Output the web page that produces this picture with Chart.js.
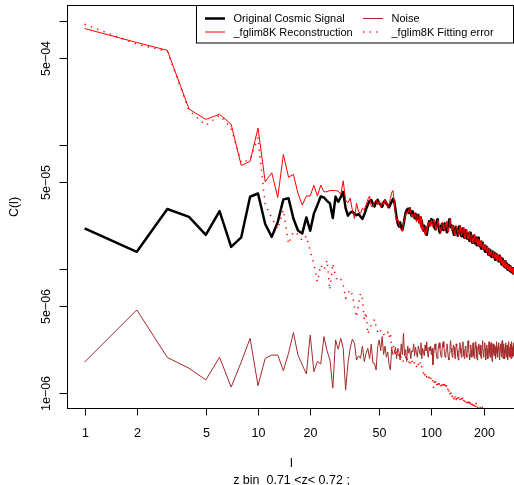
<!DOCTYPE html>
<html>
<head>
<meta charset="utf-8">
<script src="https://cdn.jsdelivr.net/npm/chart.js@4.4.1/dist/chart.umd.min.js"></script>
<style>
  html, body { margin: 0; padding: 0; background: #fff; overflow: hidden; }
  #plot { display: block; }
</style>
</head>
<body>
<canvas id="plot" width="516" height="485"></canvas>
<script>
// C(l) values are stored in units of 1e-6, one entry per multipole l = 1, 2, 3, ...
const UNIT = 1e-6;

const signal = [
  21.3, 13.8, 30.5, 26.4, 18.9, 29.4, 15.1, 18.0, 38.3, 40.7,
  23.1, 18.2, 24.0, 36.5, 37.2, 25.6, 20.5, 19.4, 26.1, 20.4,
  28.0, 32.8, 38.5, 37.8, 35.5, 33.8, 25.8, 38.4, 34.9, 38.0,
  42.0, 31.0, 27.0, 28.5, 29.0, 28.0, 27.2, 27.8, 26.5, 25.4,
  27.5, 30.5, 33.0, 35.5, 36.0, 33.5, 32.0, 34.8, 36.2, 34.0,
  33.0, 31.8, 34.5, 35.8, 33.6, 32.9, 31.5, 33.2, 35.0, 36.8,
  35.5, 30.5, 25.8, 23.2, 22.0, 23.8, 21.5, 20.6, 22.8, 25.5,
  28.5, 29.8, 30.6, 28.4, 31.0, 28.2, 26.8, 29.2, 27.0, 25.8,
  27.9, 25.2, 26.5, 27.4, 24.0, 25.9, 22.8, 24.6, 21.2, 20.5,
  22.4, 19.8, 21.6, 18.9, 20.7, 22.9, 24.3, 22.6, 23.9, 25.3,
  23.7, 24.6, 23.3, 21.7, 21.0, 22.1, 23.9, 25.1, 23.5, 21.9,
  20.3, 19.6, 21.1, 22.5, 23.1, 22.0, 20.7, 21.6, 23.3, 22.7,
  22.1, 20.7, 19.8, 21.2, 22.9, 24.3, 25.2, 23.4, 21.8, 22.5,
  21.4, 22.2, 20.9, 19.6, 18.9, 19.8, 21.1, 22.0, 21.3, 20.1,
  19.5, 18.6, 19.9, 21.2, 22.1, 21.0, 20.3, 19.0, 18.4, 19.6,
  20.5, 21.3, 19.9, 18.6, 17.9, 18.8, 19.7, 20.6, 19.1, 18.3,
  17.6, 18.5, 19.5, 18.9, 17.4, 16.9, 17.7, 18.8, 19.6, 18.0,
  17.1, 16.3, 16.9, 18.0, 18.6, 17.8, 16.6, 16.2, 17.4, 18.1,
  17.5, 16.4, 15.6, 16.1, 17.2, 17.9, 16.8, 15.9, 15.4, 16.3,
  16.6, 15.7, 14.9, 14.6, 15.3, 16.2, 16.4, 15.5, 14.8, 15.2,
  15.6, 14.9, 14.0, 13.8, 14.5, 15.3, 15.1, 14.3, 13.9, 14.6,
  14.4, 13.5, 13.1, 13.6, 14.3, 14.0, 13.2, 12.9, 13.7, 14.1,
  13.8, 13.0, 12.5, 12.8, 13.6, 13.9, 13.2, 12.6, 12.9, 13.5,
  13.1, 12.3, 11.9, 12.4, 13.0, 13.2, 12.5, 12.0, 12.3, 12.9,
  12.7, 12.0, 11.6, 11.9, 12.6, 12.8, 12.2, 11.5, 11.8, 12.4,
  12.0, 11.3, 10.9, 11.2, 11.8, 12.1, 11.6, 10.9, 10.7, 11.3,
  11.6, 11.0, 10.5, 10.4, 10.9, 11.5, 11.2, 10.6, 10.3, 10.8,
  11.1, 10.7, 10.2, 9.9, 10.4, 10.9, 10.8, 10.3, 9.9, 10.2,
  10.6, 10.3, 9.8, 9.6, 10.1, 10.5, 10.4, 9.9, 9.5, 9.8,
  10.2, 9.9, 9.4, 9.3, 9.7, 10.1, 10.0, 9.5, 9.2, 9.5,
  9.8, 9.6, 9.1, 9.0, 9.4, 9.7, 9.5, 9.1
];

const recon = [
  869, 670, 580, 195, 161, 177, 147, 68.6, 73.8, 137,
  50.6, 59.7, 37.8, 84.0, 55.0, 58.0, 40.7, 32.8, 38.8, 38.8,
  47.5, 38.8, 47.5, 42.0, 42.0, 43.0, 43.0, 43.0, 42.5, 40.0,
  51.5, 36.0, 34.2, 37.3, 30.0, 25.6, 34.0, 29.0, 28.1, 31.0,
  29.9, 33.0, 36.5, 38.8, 32.0, 31.8, 35.0, 36.0, 33.0, 35.2,
  31.5, 34.9, 33.0, 36.0, 34.2, 31.0, 33.5, 37.0, 41.5, 43.0,
  35.0, 28.0, 24.5, 25.3, 22.8, 21.6, 21.0, 20.3, 23.4, 25.1,
  27.3, 29.2, 28.0, 30.1, 31.5, 29.0, 26.2, 27.8, 26.0, 28.4,
  26.8, 24.0, 27.6, 25.5, 23.2, 26.8, 21.7, 25.2, 20.2, 22.0,
  20.6, 18.8, 22.3, 19.6, 21.9, 23.8, 22.0, 24.1, 22.5, 24.9,
  22.0, 23.5, 25.4, 24.8, 22.6, 20.8, 21.5, 23.4, 24.9, 23.6,
  21.8, 20.6, 19.5, 20.9, 22.8, 24.0, 22.9, 21.1, 20.4, 21.7,
  23.6, 24.2, 22.3, 20.4, 19.9, 21.6, 23.5, 25.6, 24.1, 21.9,
  20.5, 21.0, 22.6, 21.8, 20.2, 18.7, 18.9, 20.4, 22.3, 21.5,
  20.8, 20.0, 18.7, 19.2, 20.9, 22.6, 21.7, 20.1, 18.6, 18.9,
  19.6, 20.9, 21.8, 20.2, 18.9, 17.6, 18.2, 19.4, 20.8, 19.6,
  18.6, 17.4, 17.9, 19.0, 20.1, 18.6, 17.3, 16.7, 17.6, 18.9,
  18.6, 17.5, 16.4, 16.2, 17.3, 18.4, 19.1, 17.6, 16.6, 16.9,
  16.4, 17.3, 17.9, 16.8, 15.7, 15.5, 16.4, 17.5, 16.9, 15.8,
  15.2, 15.6, 16.5, 17.0, 16.0, 15.0, 14.6, 15.1, 15.9, 16.0,
  15.1, 14.3, 14.7, 15.4, 15.8, 14.6, 13.9, 13.6, 14.2, 15.1,
  14.9, 14.1, 13.4, 13.0, 13.5, 14.4, 14.6, 13.7, 12.9, 13.2,
  13.6, 14.2, 13.9, 12.9, 12.4, 12.7, 13.4, 14.0, 13.5, 12.7,
  12.2, 12.6, 13.3, 13.4, 12.6, 11.9, 12.1, 12.8, 13.2, 12.4,
  11.8, 11.5, 12.1, 12.7, 12.9, 12.0, 11.4, 11.6, 12.3, 12.6,
  11.9, 11.1, 11.2, 11.7, 12.2, 11.8, 11.0, 10.6, 11.1, 11.7,
  11.4, 10.8, 10.4, 10.7, 11.2, 11.6, 10.9, 10.3, 10.2, 10.8,
  11.0, 10.5, 10.0, 10.1, 10.7, 11.0, 10.6, 10.0, 9.8, 10.3,
  10.5, 10.1, 9.7, 9.9, 10.4, 10.6, 10.0, 9.6, 9.5, 10.0,
  10.3, 9.8, 9.3, 9.5, 9.9, 10.2, 9.8, 9.3, 9.1, 9.6,
  9.9, 9.5, 9.0, 9.2, 9.6, 9.8, 9.3, 9.0
];

const noise = [
  1.78, 4.69, 1.94, 1.59, 1.28, 1.95, 1.12, 1.78, 2.77, 1.15,
  1.91, 2.03, 2.03, 1.52, 2.10, 3.08, 2.03, 1.69, 1.43, 2.94,
  1.49, 1.80, 1.72, 2.86, 2.20, 1.85, 1.10, 2.69, 2.26, 2.77,
  2.30, 1.06, 1.74, 2.30, 2.72, 2.53, 1.85, 2.00, 1.91, 2.40,
  1.80, 2.10, 2.30, 1.90, 2.49, 1.75, 1.74, 1.54, 2.37, 2.69,
  2.20, 2.86, 2.05, 2.40, 1.95, 2.15, 1.70, 1.54, 2.30, 2.05,
  2.10, 2.35, 1.90, 2.30, 2.15, 1.85, 2.50, 2.05, 3.04, 2.00,
  2.25, 1.80, 2.40, 2.10, 2.30, 1.90, 2.20, 2.15, 2.50, 2.00,
  2.35, 2.10, 1.95, 2.40, 2.25, 2.05, 2.55, 1.90, 2.30, 2.15,
  2.00, 2.45, 2.20, 2.60, 2.10, 1.95, 2.35, 2.20, 2.40, 2.05,
  2.30, 1.69, 2.05, 2.35, 2.50, 2.25, 2.00, 1.90, 2.15, 2.40,
  2.55, 2.30, 2.05, 1.95, 2.20, 2.45, 2.60, 2.35, 2.10, 1.95,
  2.05, 2.30, 2.50, 2.25, 1.95, 1.85, 2.10, 2.40, 2.65, 2.30,
  2.15, 1.95, 2.20, 2.45, 2.35, 2.05, 1.90, 2.15, 2.50, 2.40,
  2.20, 2.00, 1.85, 2.10, 2.35, 2.55, 2.30, 2.10, 1.95, 2.25,
  2.45, 2.60, 2.25, 2.00, 1.90, 2.15, 2.40, 2.35, 2.05, 1.95,
  2.20, 2.50, 2.65, 2.30, 2.05, 1.85, 2.00, 2.30, 2.45, 2.20,
  1.95, 2.10, 2.40, 2.55, 2.25, 2.00, 1.90, 2.15, 2.35, 2.60,
  2.40, 2.15, 1.95, 1.85, 2.10, 2.35, 2.50, 2.25, 2.05, 2.20,
  2.45, 2.30, 2.00, 1.90, 2.15, 2.40, 2.65, 2.35, 2.10, 1.95,
  2.10, 2.35, 2.55, 2.30, 2.05, 1.85, 2.05, 2.30, 2.45, 2.25,
  2.00, 1.90, 2.20, 2.45, 2.60, 2.30, 2.10, 1.95, 2.15, 2.40,
  2.55, 2.25, 2.00, 1.80, 2.05, 2.35, 2.50, 2.30, 2.10, 2.00,
  2.20, 2.45, 2.35, 2.05, 1.90, 2.10, 2.40, 2.60, 2.30, 2.05,
  1.95, 2.15, 2.40, 2.55, 2.25, 2.00, 1.85, 2.10, 2.35, 2.50,
  2.30, 2.05, 1.95, 2.20, 2.45, 2.65, 2.35, 2.10, 1.90, 2.05,
  2.30, 2.50, 2.25, 2.00, 1.90, 2.15, 2.40, 2.55, 2.30, 2.05,
  1.95, 2.20, 2.45, 2.35, 2.10, 1.85, 2.05, 2.35, 2.60, 2.40,
  2.15, 1.95, 2.10, 2.35, 2.50, 2.25, 2.00, 1.90, 2.20, 2.45,
  2.60, 2.30, 2.05, 1.95, 2.15, 2.40, 2.55, 2.25, 2.00, 2.10,
  2.35, 2.50, 2.20, 1.95, 2.05, 2.30, 2.45, 2.20
];

const fitError = [
  940, 650, 570, 190, 144, 174, 137, 72, 76.6, 115,
  33, 26, 21, 30, 16, 20, 19, 17, 18.5, 14.0,
  11.1, 7.9, 10.8, 9.8, 11.8, 6.8, 11.1, 8.7, 8.0, 8.3,
  7.5, 5.8, 6.4, 6.8, 6.2, 5.0, 4.1, 5.2, 6.4, 5.8,
  3.9, 4.5, 3.0, 3.3, 3.55, 3.66, 3.94, 3.44, 3.1, 3.3,
  3.14, 3.19, 3.0, 2.9, 2.95, 3.1, 2.8, 3.07, 2.3, 2.5,
  2.2, 2.1, 2.25, 1.97, 2.05, 1.9, 2.0, 1.91, 1.78, 1.85,
  1.95, 1.8, 1.91, 1.75, 1.88, 1.7, 1.83, 1.76, 1.68, 1.80,
  1.72, 1.64, 1.78, 1.7, 1.82, 1.80, 1.6, 1.64, 1.5, 1.45,
  1.52, 1.40, 1.46, 1.35, 1.42, 1.40, 1.33, 1.38, 1.30, 1.36,
  1.36, 1.22, 1.10, 1.25, 1.18, 1.28, 1.20, 1.15, 1.23, 1.12,
  1.19, 1.17, 1.10, 1.20, 1.14, 1.24, 1.16, 1.24, 1.12, 1.18,
  1.08, 1.15, 1.13, 1.05, 1.10, 1.02, 1.08, 0.99, 1.06, 0.97,
  1.00, 0.94, 0.98, 0.94, 0.90, 0.97, 0.92, 0.95, 0.89, 0.95,
  0.90, 0.93, 0.88, 0.92, 0.87, 0.91, 0.86, 0.92, 0.88, 0.85,
  0.91, 0.87, 0.84, 0.89, 0.86, 0.83, 0.88, 0.85, 0.87, 0.82,
  0.86, 0.83, 0.85, 0.80, 0.84, 0.81, 0.86, 0.79, 0.83, 0.80,
  0.82, 0.78, 0.81, 0.79, 0.80, 0.77, 0.82, 0.78, 0.80, 0.76,
  0.83, 0.78, 0.80, 0.77, 0.79, 0.76, 0.78, 0.75, 0.79, 0.77,
  0.78, 0.76, 0.77, 0.75, 0.78, 0.76, 0.77, 0.74, 0.76, 0.77,
  0.75, 0.74, 0.76, 0.73, 0.74, 0.72, 0.73, 0.71, 0.72, 0.70
];

const xTicks = [1, 2, 5, 10, 20, 50, 100, 200];
const yTicks = [1e-6, 5e-6, 1e-5, 5e-5, 1e-4, 5e-4, 1e-3];
const yTickText = ['1e\u221206', '5e\u221206', '', '5e\u221205', '', '5e\u221204', ''];

const X_MIN = 0.802, X_MAX = 307.5;
const Y_MIN = 7.6e-7, Y_MAX = 1.32e-3;

const DOTS = [1.3, 5.4];

const legendItems = [
  { text: 'Original Cosmic Signal', color: '#000000', width: 2.5, dash: [] },
  { text: '_fglim8K Reconstruction', color: '#ff0000', width: 1, dash: [] },
  { text: 'Noise', color: '#a52a2a', width: 1, dash: [] },
  { text: '_fglim8K Fitting error', color: '#ff0000', width: 1.5, dash: DOTS }
];

const FONT = '"Liberation Sans", Arial, Helvetica, sans-serif';
const toPoints = arr => arr.map((v, i) => ({ x: i + 1, y: v * UNIT }));

// frame, ticks, axis text and legend drawn in R base-graphics style
const rAxes = {
  id: 'rAxes',
  beforeDraw(chart) {
    const ctx = chart.ctx;
    ctx.save();
    ctx.fillStyle = '#fff';
    ctx.fillRect(0, 0, chart.width, chart.height);
    ctx.restore();
  },
  afterDraw(chart) {
    const ctx = chart.ctx;
    const a = chart.chartArea;
    const xs = chart.scales.x, ys = chart.scales.y;
    const L = Math.round(a.left) - 0.5, T = Math.round(a.top) - 0.5, B = Math.round(a.bottom) + 0.5;
    ctx.save();
    ctx.strokeStyle = '#000';
    ctx.lineWidth = 1;
    ctx.strokeRect(L, T, a.right - L + 2, B - T);

    ctx.fillStyle = '#000';
    ctx.font = '12.5px ' + FONT;

    // x ticks
    ctx.textAlign = 'center';
    ctx.textBaseline = 'alphabetic';
    xTicks.forEach(v => {
      const px = Math.round(xs.getPixelForValue(v)) + 0.5;
      ctx.beginPath();
      ctx.moveTo(px, B);
      ctx.lineTo(px, B + 7);
      ctx.stroke();
      ctx.fillText(String(v), px, 436.5);
    });

    // y ticks, labels rotated like R's default las = 0
    yTicks.forEach((v, i) => {
      const py = Math.round(ys.getPixelForValue(v)) + 0.5;
      ctx.beginPath();
      ctx.moveTo(L, py);
      ctx.lineTo(L - 8, py);
      ctx.stroke();
      if (yTickText[i]) {
        ctx.save();
        ctx.translate(45, py);
        ctx.rotate(-Math.PI / 2);
        ctx.fillText(yTickText[i], 0, 4.5);
        ctx.restore();
      }
    });

    // axis titles
    ctx.fillText('l', 291.5, 466.5);
    ctx.fillText('z bin  0.71 <z< 0.72 ;', 291.5, 483.5);
    ctx.save();
    ctx.translate(13.5, (a.top + a.bottom) / 2);
    ctx.rotate(-Math.PI / 2);
    ctx.fillText('C(l)', 0, 4.5);
    ctx.restore();

    // legend box, two columns
    ctx.fillStyle = '#fff';
    ctx.fillRect(196.5, T, 317, 37.5);
    ctx.strokeRect(196.5, T, 317, 37.5);
    ctx.font = '11px ' + FONT;
    ctx.textAlign = 'left';
    const cols = [205, 363];
    const rows = [18.5, 32];
    legendItems.forEach((it, i) => {
      const cx = cols[Math.floor(i / 2)], cy = rows[i % 2];
      ctx.save();
      ctx.strokeStyle = it.color;
      ctx.lineWidth = it.width;
      ctx.setLineDash(it.dash);
      ctx.beginPath();
      ctx.moveTo(cx, cy);
      ctx.lineTo(cx + 20, cy);
      ctx.stroke();
      ctx.restore();
      ctx.fillStyle = '#000';
      ctx.fillText(it.text, cx + 28.5, cy + 3.5);
    });
    ctx.restore();
  }
};

const baseLine = { pointRadius: 0, tension: 0, fill: false, borderJoinStyle: 'round' };

new Chart(document.getElementById('plot').getContext('2d'), {
  type: 'line',
  data: {
    datasets: [
      Object.assign({ label: '_fglim8K Fitting error', data: toPoints(fitError),
        borderColor: '#ff0000', borderWidth: 1.5, borderDash: DOTS }, baseLine),
      Object.assign({ label: 'Noise', data: toPoints(noise),
        borderColor: '#a52a2a', borderWidth: 1 }, baseLine),
      Object.assign({ label: '_fglim8K Reconstruction', data: toPoints(recon),
        borderColor: '#ff0000', borderWidth: 1 }, baseLine),
      Object.assign({ label: 'Original Cosmic Signal', data: toPoints(signal),
        borderColor: '#000000', borderWidth: 2.5 }, baseLine)
    ]
  },
  options: {
    responsive: false,
    animation: false,
    devicePixelRatio: 1,
    layout: { padding: { left: 68, top: 6, right: 0, bottom: 77 } },
    plugins: { legend: { display: false }, tooltip: { enabled: false } },
    scales: {
      x: { type: 'logarithmic', min: X_MIN, max: X_MAX, display: false },
      y: { type: 'logarithmic', min: Y_MIN, max: Y_MAX, display: false }
    }
  },
  plugins: [rAxes]
});
</script>
</body>
</html>
